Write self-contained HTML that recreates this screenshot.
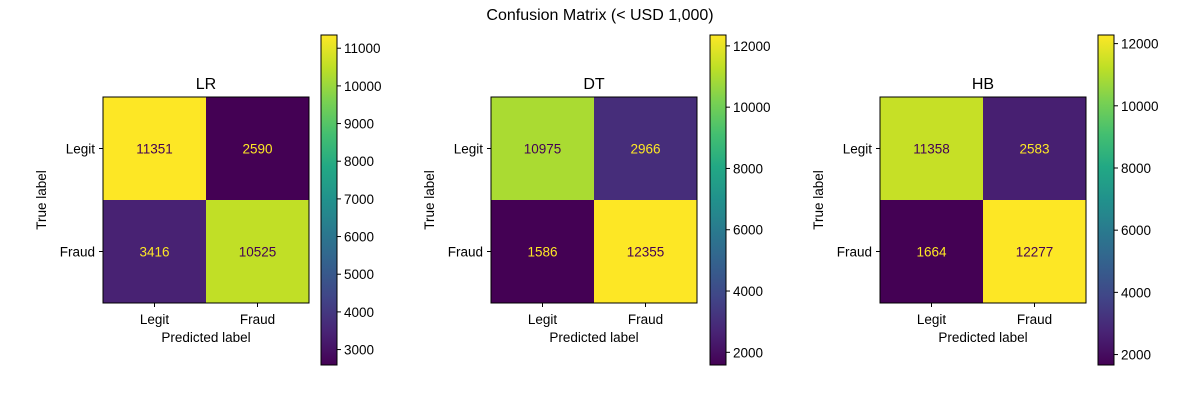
<!DOCTYPE html>
<html><head><meta charset="utf-8">
<style>
html,body{margin:0;padding:0;background:#fff;}
svg{display:block;font-family:"Liberation Sans","DejaVu Sans",sans-serif;}
</style></head>
<body>
<svg id="chart" width="1200" height="400" viewBox="0 0 1200 400">
<text x="600" y="20" text-anchor="middle" font-size="16" fill="#000">Confusion Matrix (&lt; USD 1,000)</text>
</svg>
<script>
const modelNames = ["LR", "DT", "HB"];
const classLabels = ["Legit", "Fraud"];
const lrValues = [[11351, 2590], [3416, 10525]];
const dtValues = [[10975, 2966], [1586, 12355]];
const hbValues = [[11358, 2583], [1664, 12277]];
const lrTicks = [3000, 4000, 5000, 6000, 7000, 8000, 9000, 10000, 11000];
const dtTicks = [2000, 4000, 6000, 8000, 10000, 12000];
const hbTicks = [2000, 4000, 6000, 8000, 10000, 12000];

const allValues = [lrValues, dtValues, hbValues];
const allTicks = [lrTicks, dtTicks, hbTicks];
const panelX = [103, 491, 880];
const cbarX = [321, 710, 1098];
const MY = 97, MS = 206, CB_TOP = 35, CB_H = 330, CB_W = 16;

const vir = ["#440154","#482475","#414487","#355f8d","#2a788e","#21918c","#22a884","#44bf70","#7ad151","#bddf26","#fde725"];
function hex(h){return [1,3,5].map(i=>parseInt(h.substr(i,2),16));}
function viridis(t){
  t=Math.max(0,Math.min(1,t));
  const p=t*10,i=Math.min(9,Math.floor(p)),f=p-i;
  const a=hex(vir[i]),b=hex(vir[i+1]);
  return "rgb("+a.map((v,k)=>Math.round(v+(b[k]-v)*f)).join(",")+")";
}
const NS="http://www.w3.org/2000/svg";
const svg=document.getElementById("chart");
function mk(tag,attrs,parent){const e=document.createElementNS(NS,tag);for(const k in attrs)e.setAttribute(k,attrs[k]);(parent||svg).appendChild(e);return e;}

modelNames.forEach((name,p)=>{
  const vals=allValues[p];
  const flat=vals.flat();
  const vmin=Math.min(...flat), vmax=Math.max(...flat);
  const x0=panelX[p], cs=MS/2;
  const g=mk("g",{});
  
  
  const mid=(vmin+vmax)/2;
  for(let r=0;r<2;r++)for(let c=0;c<2;c++){
    const v=vals[r][c];
    const rect=mk("rect",{x:x0+c*cs,y:MY+r*cs,width:cs+0.5,height:cs+0.5,fill:viridis((v-vmin)/(vmax-vmin))},g);
    
    
    const t=mk("text",{x:x0+c*cs+cs/2,y:MY+r*cs+cs/2+5,"text-anchor":"middle","font-size":"13.5",fill:v>=mid?viridis(0):viridis(1)},g);
    t.textContent=v;
    
    
  }
  mk("rect",{x:x0,y:MY,width:MS,height:MS,fill:"none",stroke:"#000","stroke-width":1},g);
  const ti=mk("text",{x:x0+MS/2,y:MY-8,"text-anchor":"middle","font-size":"16",fill:"#000"},g);
  ti.textContent=name;
  
  
  classLabels.forEach((lab,i)=>{
    const cx=x0+cs*i+cs/2;
    mk("line",{x1:cx,x2:cx,y1:MY+MS,y2:MY+MS+4,stroke:"#000"},g);
    const xt=mk("text",{x:cx,y:MY+MS+21,"text-anchor":"middle","font-size":"13.5",fill:"#000"},g);
    xt.textContent=lab;
    
    
    const cy=MY+cs*i+cs/2;
    mk("line",{x1:x0-4,x2:x0,y1:cy,y2:cy,stroke:"#000"},g);
    const yt=mk("text",{x:x0-8,y:cy+5,"text-anchor":"end","font-size":"13.5",fill:"#000"},g);
    yt.textContent=lab;
    
    
  });
  const xl=mk("text",{x:x0+MS/2,y:MY+MS+39,"text-anchor":"middle","font-size":"13.5",fill:"#000"},g);
  xl.textContent="Predicted label";
  
  
  const yx=x0-57, yy=MY+MS/2;
  const yl=mk("text",{x:yx,y:yy,"text-anchor":"middle","font-size":"13.5",fill:"#000",transform:"rotate(-90 "+yx+" "+yy+")"},g);
  yl.textContent="True label";
  
  

  // colorbar
  const cb=mk("g",{});
  
  
  const gid="grad"+p;
  const defs=mk("defs",{},cb);
  const lg=mk("linearGradient",{id:gid,x1:0,y1:1,x2:0,y2:0},defs);
  for(let i=0;i<=20;i++) mk("stop",{offset:(i/20),"stop-color":viridis(i/20)},lg);
  const cx0=cbarX[p];
  mk("rect",{x:cx0,y:CB_TOP,width:CB_W,height:CB_H,fill:"url(#"+gid+")",stroke:"#000","stroke-width":1},cb);
  allTicks[p].forEach(tv=>{
    const ty=CB_TOP+CB_H-(tv-vmin)/(vmax-vmin)*CB_H;
    mk("line",{x1:cx0+CB_W,x2:cx0+CB_W+4,y1:ty,y2:ty,stroke:"#000"},cb);
    const tl=mk("text",{x:cx0+CB_W+7,y:ty+5,"font-size":"13.5",fill:"#000"},cb);
    tl.textContent=tv;
    
    
  });
});
</script>
</body></html>
